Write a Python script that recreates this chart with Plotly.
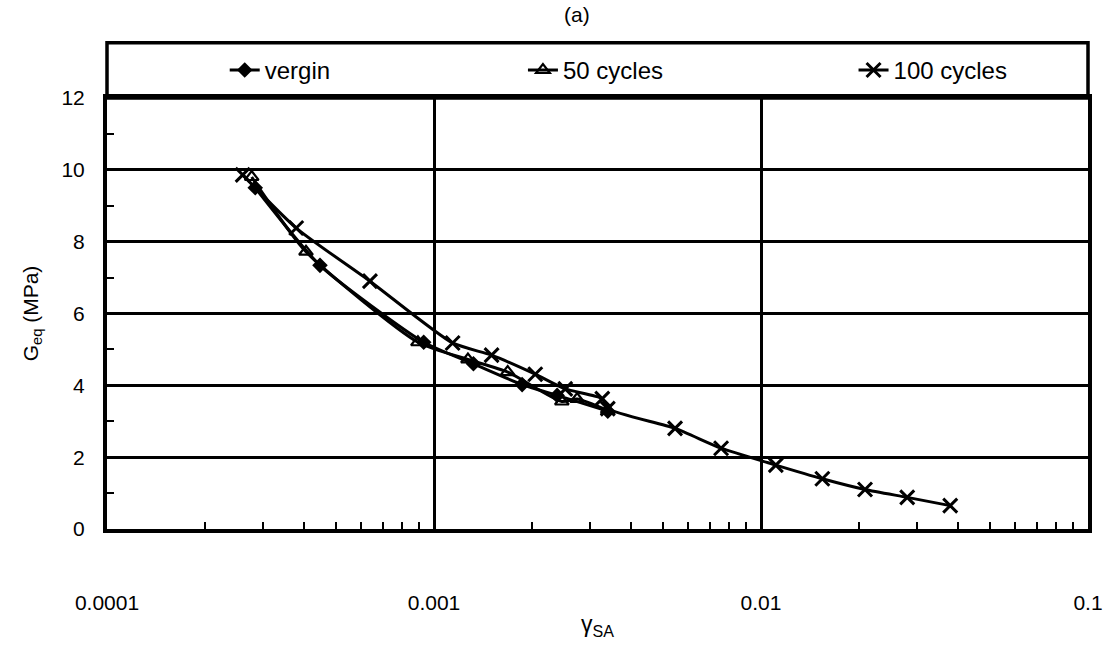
import plotly.graph_objects as go

# ---- data ----
vergin_x = [0.000284, 0.000448, 0.00093, 0.00132, 0.00186, 0.00238, 0.0034]
vergin_y = [9.5, 7.34, 5.2, 4.6, 4.02, 3.72, 3.28]

c50_x = [0.000277, 0.000406, 0.000893, 0.00127, 0.00168, 0.00246, 0.00274, 0.0034]
c50_y = [9.8, 7.72, 5.2, 4.72, 4.37, 3.55, 3.62, 3.3]

c100_x = [0.00026, 0.000379, 0.000637, 0.00114, 0.0015, 0.00204, 0.00252, 0.00327,
          0.0034, 0.00546, 0.00755, 0.0111, 0.0154, 0.0208, 0.028, 0.0379]
c100_y = [9.86, 8.38, 6.9, 5.18, 4.84, 4.31, 3.9, 3.63,
          3.35, 2.8, 2.25, 1.78, 1.4, 1.1, 0.88, 0.65]

x_tickvals = [0.0001, 0.001, 0.01, 0.1]
x_ticktext = ["0.0001", "0.001", "0.01", "0.1"]
y_tickvals = [0, 2, 4, 6, 8, 10, 12]

FONT = "Liberation Sans, Arial, sans-serif"
BLACK = "black"

fig = go.Figure()
fig.add_trace(go.Scatter(
    x=vergin_x, y=vergin_y, name="vergin", mode="lines+markers",
    line=dict(color=BLACK, width=3, shape="spline", smoothing=0.6),
    marker=dict(symbol="diamond", size=12, color=BLACK),
    legend="legend"))
fig.add_trace(go.Scatter(
    x=c50_x, y=c50_y, name="50 cycles", mode="lines+markers",
    line=dict(color=BLACK, width=3, shape="spline", smoothing=0.6),
    marker=dict(symbol="triangle-up-open", size=12, color=BLACK, line=dict(width=2.2, color=BLACK)),
    legend="legend2"))
fig.add_trace(go.Scatter(
    x=c100_x, y=c100_y, name="100 cycles", mode="lines+markers",
    line=dict(color=BLACK, width=3, shape="spline", smoothing=0.6),
    marker=dict(symbol="x-thin", size=14, color=BLACK, line=dict(width=3, color=BLACK)),
    legend="legend3"))

minor_x = [k * 10.0 ** d for d in (-4, -3, -2) for k in range(2, 10)]

fig.update_xaxes(
    type="log", range=[-4, -1],
    tickvals=x_tickvals, ticktext=x_ticktext,
    ticks="", ticklabelstandoff=52,
    showgrid=True, gridcolor=BLACK, gridwidth=2.5,
    showline=True, linecolor=BLACK, linewidth=4, mirror=True,
    tickfont=dict(family=FONT, size=21, color=BLACK),
    minor=dict(tickvals=minor_x, ticks="inside", ticklen=7, tickwidth=1.5,
               tickcolor=BLACK, showgrid=False),
    title=dict(text="γ<sub>SA</sub>", font=dict(family=FONT, size=23, color=BLACK), standoff=4),
    zeroline=False)
fig.update_yaxes(
    range=[0, 12], tickvals=y_tickvals,
    ticks="", ticklabelstandoff=14,
    showgrid=True, gridcolor=BLACK, gridwidth=2.5,
    showline=True, linecolor=BLACK, linewidth=4, mirror=True,
    tickfont=dict(family=FONT, size=21, color=BLACK),
    minor=dict(tickvals=[1, 3, 5, 7, 9, 11], ticks="inside", ticklen=7, tickwidth=1.5,
               tickcolor=BLACK, showgrid=False),
    title=dict(text="G<sub>eq</sub> (MPa)", font=dict(family=FONT, size=21, color=BLACK), standoff=18),
    zeroline=False)

# legend panel above the plotting area
fig.add_shape(type="rect", xref="paper", yref="paper", x0=0, x1=1, y0=1, y1=1.128,
              line=dict(color=BLACK, width=3.5), fillcolor="white", layer="below")

leg_common = dict(orientation="h", yanchor="middle", y=1.064, xanchor="left",
                  bgcolor="rgba(0,0,0,0)", borderwidth=0,
                  font=dict(family=FONT, size=24, color=BLACK))
fig.update_layout(
    width=1120, height=646,
    margin=dict(l=107, r=32, t=98, b=112),
    paper_bgcolor="white", plot_bgcolor="white",
    title=dict(text="(a)", x=0.515, xanchor="center", y=0.978, yanchor="middle",
               font=dict(family=FONT, size=21, color=BLACK)),
    legend=dict(x=0.12, **leg_common),
    legend2=dict(x=0.424, **leg_common),
    legend3=dict(x=0.761, **leg_common),
    showlegend=True,
)

fig.write_html("out.html")
